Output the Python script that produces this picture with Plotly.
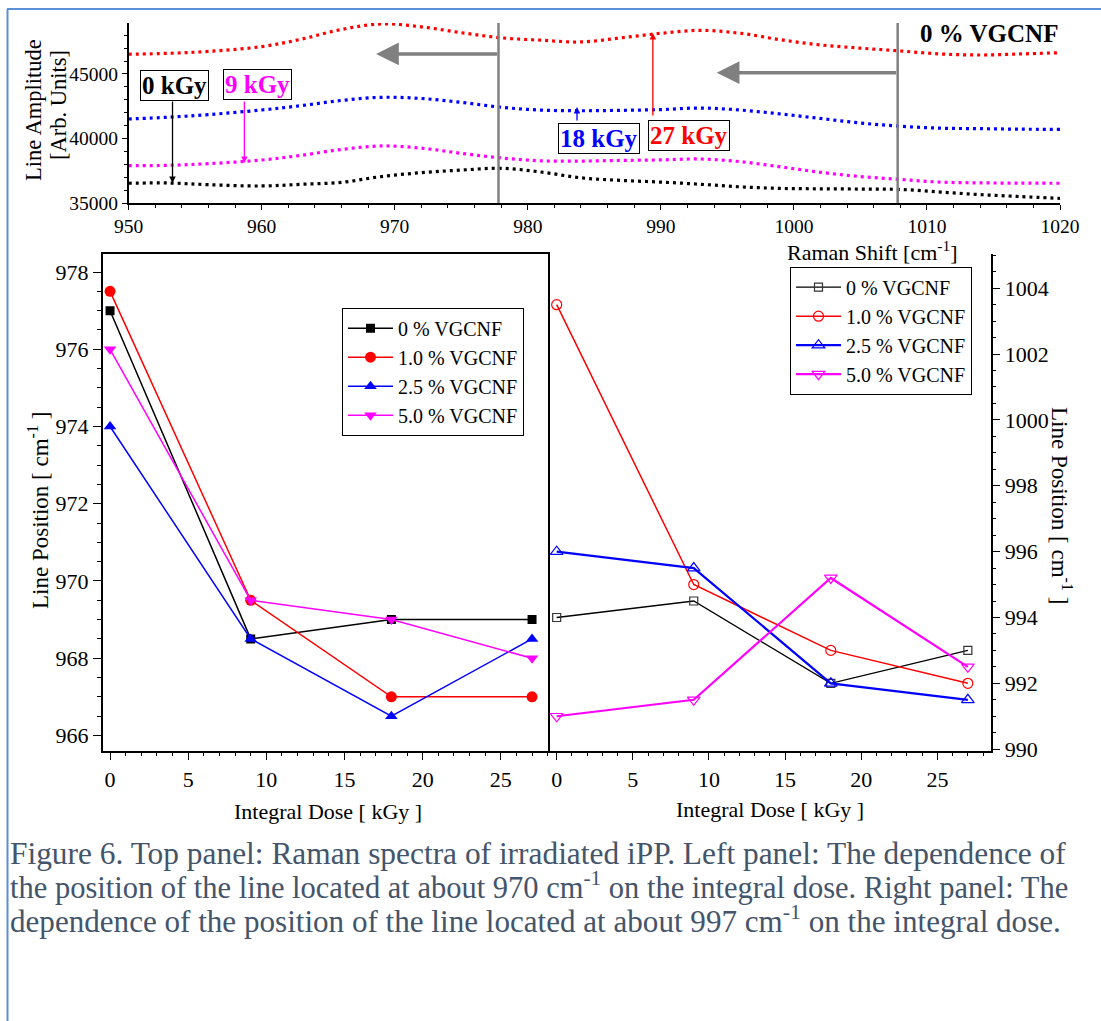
import plotly.graph_objects as go

W, H = 1101, 1021


def px(x):
    return x / W


def py(y):
    return 1 - y / H


# ---------------- data ----------------
# Top panel: Raman spectra (0 % VGCNF)
shift = [950, 953, 956, 960, 963, 966, 969, 972, 975, 978, 981, 984, 987, 990,
         993, 996, 999, 1002, 1005, 1008, 1011, 1014, 1017, 1020]
amp_0kgy = [36530, 36550, 36420, 36320, 36450, 36600, 37050, 37350, 37550, 37690,
            37400, 36950, 36750, 36620, 36450, 36250, 36130, 36100, 36080, 36050,
            35850, 35650, 35500, 35360]
amp_9kgy = [37890, 37920, 38050, 38330, 38700, 39150, 39420, 39250, 38850, 38490,
            38270, 38250, 38300, 38340, 38410, 38200, 37800, 37380, 37050, 36830,
            36620, 36560, 36540, 36530]
amp_18kgy = [41510, 41650, 41850, 42210, 42550, 42950, 43190, 43100, 42800, 42420,
             42200, 42150, 42180, 42240, 42360, 42200, 41900, 41550, 41200, 40950,
             40800, 40760, 40720, 40710]
amp_27kgy = [46530, 46600, 46750, 47120, 47700, 48450, 48880, 48650, 48200, 47800,
             47620, 47480, 47800, 48150, 48380, 48150, 47650, 47250, 47000, 46780,
             46550, 46470, 46550, 46650]

# Bottom panels
dose = [0, 9, 18, 27]
series_names = ["0 % VGCNF", "1.0 % VGCNF", "2.5 % VGCNF", "5.0 % VGCNF"]
# line near 970 cm-1
pos970_0 = [977.0, 968.5, 969.0, 969.0]
pos970_1 = [977.5, 969.5, 967.0, 967.0]
pos970_25 = [974.0, 968.5, 966.5, 968.5]
pos970_5 = [976.0, 969.5, 969.0, 968.0]
# line near 997 cm-1
pos997_0 = [994.0, 994.5, 992.0, 993.0]
pos997_1 = [1003.5, 995.0, 993.0, 992.0]
pos997_25 = [996.0, 995.5, 992.0, 991.5]
pos997_5 = [991.0, 991.5, 995.2, 992.5]

# ---------------- figure ----------------
FONT = "Liberation Serif"
colors = ["#000000", "#ff0000", "#0000ff", "#ff00ff"]

fig = go.Figure()

# Top spectra
for yv, c in [(amp_0kgy, "#000000"), (amp_9kgy, "#ff00ff"),
              (amp_18kgy, "#0000ff"), (amp_27kgy, "#ff0000")]:
    fig.add_trace(go.Scatter(
        x=shift, y=yv, mode="lines", xaxis="x", yaxis="y", showlegend=False,
        line=dict(color=c, width=3.2, dash="3px,4px", shape="spline", smoothing=1.0),
        hoverinfo="skip"))

# Left panel (filled markers)
left_sets = [pos970_0, pos970_1, pos970_25, pos970_5]
filled_sym = ["square", "circle", "triangle-up", "triangle-down"]
filled_size = [9, 11, 11, 11]
for name, yv, c, s, sz in zip(series_names, left_sets, colors, filled_sym, filled_size):
    fig.add_trace(go.Scatter(
        x=dose, y=yv, name=name, mode="lines+markers", xaxis="x2", yaxis="y2",
        legend="legend", line=dict(color=c, width=1.5),
        marker=dict(symbol=s, size=sz, color=c)))

# Right panel (open markers)
right_sets = [pos997_0, pos997_1, pos997_25, pos997_5]
open_sym = ["square-open", "circle-open", "triangle-up-open", "triangle-down-open"]
open_size = [8, 10, 11, 11]
line_w = [1.3, 1.5, 2.2, 2.2]
for name, yv, c, s, sz, lw in zip(series_names, right_sets, colors, open_sym, open_size, line_w):
    fig.add_trace(go.Scatter(
        x=dose, y=yv, name=name, mode="lines+markers", xaxis="x3", yaxis="y3",
        legend="legend2", line=dict(color=c, width=lw),
        marker=dict(symbol=s, size=sz, color=c if c != "#000000" else "#333333",
                    line=dict(width=1.2))))


def axis(tick_size=22, ticklen=8, **kw):
    d = dict(
        showline=True, linecolor="black", linewidth=1.5, showgrid=False, zeroline=False,
        ticks="outside", ticklen=ticklen, tickwidth=1.2, tickcolor="black",
        automargin=False,
        tickfont=dict(family=FONT, size=tick_size, color="black"),
    )
    d.update(kw)
    return d


def minor(dt, ln=4):
    return dict(dtick=dt, ticks="outside", ticklen=ln, tickwidth=1, tickcolor="black",
                showgrid=False)


legend_style = dict(xanchor="left", yanchor="top", bgcolor="white", bordercolor="black",
                    borderwidth=1, font=dict(family=FONT, size=20, color="black"),
                    itemwidth=45, tracegroupgap=0)

fig.update_layout(
    width=W, height=H,
    margin=dict(l=0, r=0, t=0, b=0, pad=0, autoexpand=False),
    paper_bgcolor="white", plot_bgcolor="white",
    font=dict(family=FONT, color="black"),
    xaxis=axis(19.5, 5, anchor="y", domain=[px(128.6), px(1060)], range=[950, 1020],
               tick0=950, dtick=10, minor=minor(2, 3)),
    yaxis=axis(19.5, 5, anchor="x", domain=[py(203), py(23)], range=[35000, 48950],
               tick0=35000, dtick=5000, tickformat="d", minor=minor(1000, 3)),
    xaxis2=axis(anchor="y2", domain=[px(102.7), px(548.3)],
                range=[-0.47, 28.04], tick0=0, dtick=5, mirror=True, minor=minor(1)),
    yaxis2=axis(anchor="x2", domain=[py(750.5), py(254.3)],
                range=[965.61, 978.46], tick0=966, dtick=2, mirror=True, minor=minor(0.5)),
    xaxis3=axis(anchor="y3", domain=[px(548.3), px(990.7)],
                range=[-0.55, 28.5], tick0=0, dtick=5, minor=minor(1)),
    yaxis3=axis(anchor="x3", side="right", domain=[py(750.5), py(254.3)],
                range=[989.96, 1005.03], tick0=990, dtick=2, minor=minor(0.5)),
    legend=dict(x=px(342), y=py(307.7), **legend_style),
    legend2=dict(x=px(790), y=py(266.7), **legend_style),
)

# Gray vertical lines in top panel
for xv in [977.8, 1007.8]:
    fig.add_shape(type="line", xref="x", yref="y", x0=xv, x1=xv, y0=35000, y1=48950,
                  line=dict(color="#808080", width=2.5))

# Blue page frame
fig.add_shape(type="line", xref="paper", yref="paper", x0=px(7), x1=1, y0=py(9), y1=py(9),
              line=dict(color="#5b8fd6", width=2))
fig.add_shape(type="line", xref="paper", yref="paper", x0=px(7.5), x1=px(7.5), y0=0, y1=py(9),
              line=dict(color="#5b8fd6", width=2))

ann = []
# Gray arrows
for x0, x1, yv in [(977.8, 968.6, 46550), (1007.8, 994.2, 45100)]:
    ann.append(dict(xref="x", yref="y", axref="x", ayref="y", x=x1, y=yv, ax=x0, ay=yv,
                    text="", showarrow=True, arrowhead=2, arrowsize=1.3, arrowwidth=3.5,
                    arrowcolor="#808080"))
# Dose arrows
for xv, y_from, y_to, c in [(953.3, 42985, 36550, "#000000"),
                            (958.7, 42985, 38100, "#ff00ff"),
                            (983.7, 41280, 42440, "#0000ff"),
                            (989.4, 41670, 48180, "#ff0000")]:
    ann.append(dict(xref="x", yref="y", axref="x", ayref="y", x=xv, y=y_to, ax=xv, ay=y_from,
                    text="", showarrow=True, arrowhead=2, arrowsize=1, arrowwidth=1.3,
                    arrowcolor=c))
# Dose labels
for label, cx, cy, c in [("0 kGy", 174.5, 85, "#000000"), ("9 kGy", 257, 84, "#ff00ff"),
                         ("18 kGy", 599, 138, "#0000ff"), ("27 kGy", 689, 135, "#ff0000")]:
    ann.append(dict(xref="paper", yref="paper", x=px(cx), y=py(cy), xanchor="center",
                    yanchor="middle", text="<b>%s</b>" % label, showarrow=False,
                    font=dict(family=FONT, size=25, color=c), bgcolor="white",
                    bordercolor="black", borderwidth=1, borderpad=1))
ann.append(dict(xref="paper", yref="paper", x=px(1060), y=py(33), xanchor="right",
                yanchor="middle", text="<b>0 % VGCNF</b>", showarrow=False,
                font=dict(family=FONT, size=25, color="black")))

# Axis titles
for txt, cx, cy in [("Line Amplitude", 33, 110), ("[Arb. Units]", 58, 105)]:
    ann.append(dict(xref="paper", yref="paper", x=px(cx), y=py(cy), xanchor="center",
                    yanchor="middle", textangle=-90, showarrow=False, text=txt,
                    font=dict(family=FONT, size=22.5, color="black")))
ann.append(dict(xref="paper", yref="paper", x=px(872), y=py(251), xanchor="center",
                yanchor="middle", showarrow=False, text="Raman Shift [cm<sup>-1</sup>]",
                font=dict(family=FONT, size=22, color="black")))
ann.append(dict(xref="paper", yref="paper", x=px(38), y=py(511), xanchor="center",
                yanchor="middle", textangle=-90, showarrow=False,
                text="Line Position [ cm<sup>-1</sup> ]",
                font=dict(family=FONT, size=23, color="black")))
ann.append(dict(xref="paper", yref="paper", x=px(1062), y=py(505), xanchor="center",
                yanchor="middle", textangle=90, showarrow=False,
                text="Line Position [ cm<sup>-1</sup> ]",
                font=dict(family=FONT, size=23, color="black")))
ann.append(dict(xref="paper", yref="paper", x=px(328), y=py(811), xanchor="center",
                yanchor="middle", showarrow=False, text="Integral Dose [ kGy ]",
                font=dict(family=FONT, size=22, color="black")))
ann.append(dict(xref="paper", yref="paper", x=px(770), y=py(809), xanchor="center",
                yanchor="middle", showarrow=False, text="Integral Dose [ kGy ]",
                font=dict(family=FONT, size=22, color="black")))

# Caption (bottom-anchored so superscripts do not shift baselines);
# per-line sizes mimic the justified lines of the original caption
caption = [
    "Figure 6. Top panel: Raman spectra of irradiated iPP. Left panel: The dependence of",
    "the position of the line located at about 970 cm<sup>-1</sup> on the integral dose. Right panel: The",
    "dependence of the position of the line located at about 997 cm<sup>-1</sup> on the integral dose.",
]
caption_sizes = [31.4, 30.5, 31.1]
for i, (line, fs) in enumerate(zip(caption, caption_sizes)):
    ann.append(dict(xref="paper", yref="paper", x=px(8), y=py(873 + 34 * i), xanchor="left",
                    yanchor="bottom", showarrow=False, text=line,
                    font=dict(family=FONT, size=fs, color="#44546a")))

fig.update_layout(annotations=ann)

fig.write_html("out.html")
